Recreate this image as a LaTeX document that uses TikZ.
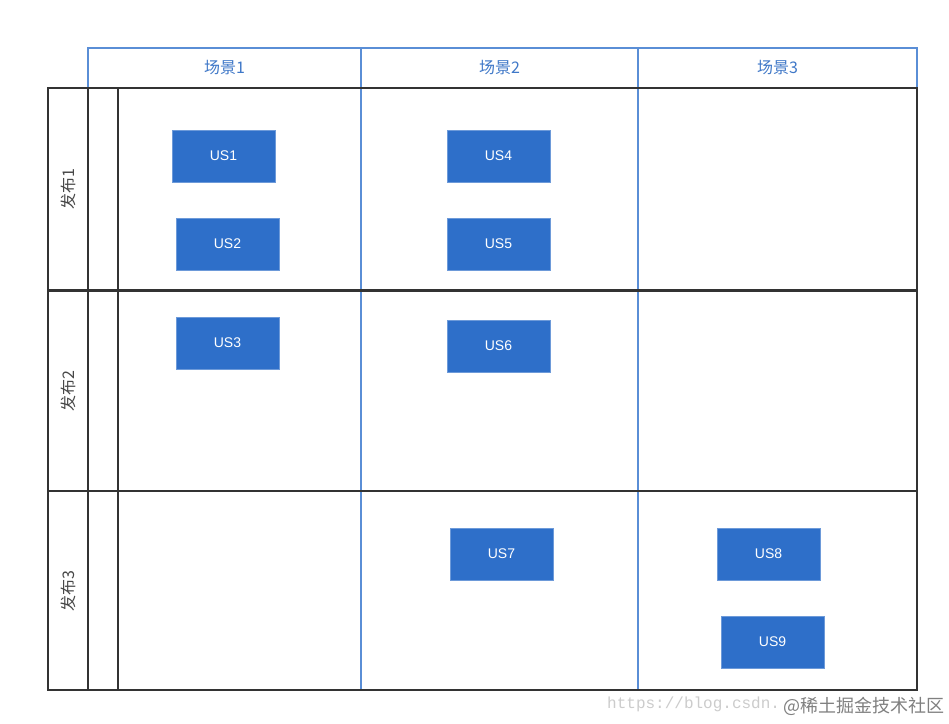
\documentclass[tikz,border=0pt]{standalone}
\usepackage{fontspec}
\setmainfont{Liberation Sans}
\newfontfamily\cjk{Noto Sans CJK SC}
\newfontfamily\monof{Liberation Mono}
\definecolor{usblue}{HTML}{2E6FC9}
\definecolor{lineblue}{HTML}{5A8ED6}
\definecolor{dark}{HTML}{333333}
\definecolor{hdrtext}{HTML}{3F78C8}
\begin{document}
\begin{tikzpicture}[x=1pt,y=-1pt,
  usbox/.style={fill=usblue,draw=usblue!70!white,line width=0.6pt,minimum width=103pt,minimum height=52pt,inner sep=0pt,text=white,font=\fontsize{14}{16}\selectfont},
  hdr/.style={text=hdrtext,font=\cjk\fontsize{16}{18}\selectfont},
  rel/.style={text=dark!90,font=\cjk\fontsize{16}{18}\selectfont,rotate=90},
  bl/.style={draw=lineblue,line width=1.2pt},
  dk/.style={draw=dark,line width=1.8pt}]
\useasboundingbox (0,0) rectangle (949,723);
\fill[white] (0,0) rectangle (949,723);
% header
\draw[bl] (88,48) rectangle (917,88);
\draw[bl] (361,48) -- (361,690);
\draw[bl] (638,48) -- (638,690);
% grid
\draw[dk] (48,88) rectangle (917,690);
\draw[dk] (88,88) -- (88,690);
\draw[dk] (118,88) -- (118,690);
\draw[draw=dark,line width=3pt] (48,290) -- (917,290);
\draw[dk] (48,491) -- (917,491);
% header texts
\node[hdr] (h1) at (224.5,68) {场景1};
\node[hdr] (h2) at (499.5,68) {场景2};
\node[hdr] (h3) at (777.5,68) {场景3};
% release labels
\node[rel] (r1) at (68,189) {发布1};
\node[rel] (r2) at (68,391) {发布2};
\node[rel] (r3) at (68,591) {发布3};
% user stories
\node[usbox] (us1) at (223.5,156) {US1};
\node[usbox] (us2) at (227.5,244) {US2};
\node[usbox] (us3) at (227.5,343) {US3};
\node[usbox] (us4) at (498.5,156) {US4};
\node[usbox] (us5) at (498.5,244) {US5};
\node[usbox] (us6) at (498.5,346) {US6};
\node[usbox] (us7) at (501.5,554) {US7};
\node[usbox] (us8) at (768.5,554) {US8};
\node[usbox] (us9) at (772.5,642) {US9};
% watermark
\node[anchor=west,inner sep=0pt,text=black!20,font=\monof\fontsize{16}{18}\selectfont] (wm1) at (607,704) {https://blog.csdn.};
\node[anchor=west,inner sep=0pt,text=black!50,font=\cjk\fontsize{18}{20}\selectfont] (wm2) at (783,706) {@稀土掘金技术社区};
\end{tikzpicture}
\end{document}
